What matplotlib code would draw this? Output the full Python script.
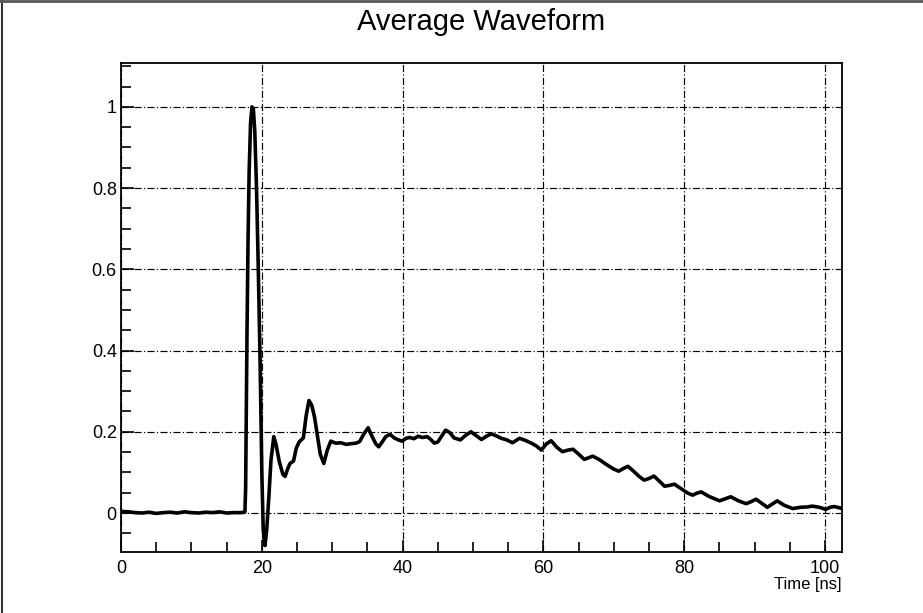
import matplotlib
matplotlib.use('Agg')
import matplotlib.pyplot as plt
from matplotlib.lines import Line2D
from matplotlib.ticker import MultipleLocator

plt.rcParams['font.family'] = ['Liberation Sans', 'DejaVu Sans']

# averaged pulse, time in ns and normalised amplitude
time_ns = [0, 1, 2, 3, 4, 5, 6, 7, 8, 9, 10, 11, 12, 13, 14, 15, 16, 17, 17.5,
           17.6, 17.7, 17.8, 17.9, 18.05, 18.2, 18.4, 18.6, 18.8, 19.0, 19.25,
           19.5, 19.75, 20.0, 20.2, 20.45, 20.7, 21.0, 21.3, 21.7, 22.0, 22.5,
           23.0, 23.3, 23.7, 24.0, 24.5, 24.9, 25.3, 25.9, 26.3, 26.7, 27.1,
           27.5, 27.9, 28.3, 28.8, 29.3, 29.8, 30.5, 31.2, 32.0, 32.8, 33.4,
           33.9, 34.5, 35.1, 35.7, 36.2, 36.6, 37.1, 37.6, 38.2, 38.8, 39.4,
           39.9, 40.5, 41.0, 41.6, 42.2, 42.8, 43.5, 44.0, 44.5, 45.0, 45.5,
           46.1, 46.7, 47.3, 48.2, 49.0, 49.7, 50.5, 51.2, 51.9, 52.6, 53.3,
           54.0, 54.8, 55.6, 56.6, 57.4, 58.3, 59.0, 59.7, 60.4, 61.1, 61.9,
           62.7, 63.5, 64.2, 65.0, 65.8, 66.4, 67.0, 67.9, 68.9, 70.0, 70.7,
           71.4, 72.0, 72.8, 73.6, 74.3, 75.0, 75.7, 76.5, 77.2, 77.9, 78.6,
           79.8, 80.5, 81.2, 81.8, 82.4, 83.5, 85.0, 85.8, 86.6, 87.7, 88.8,
           89.5, 90.2, 91.0, 91.8, 92.5, 93.2, 94.2, 95.4, 96.5, 97.5, 98.2,
           99.2, 100.1, 100.7, 101.3, 102.2]
amplitude = [0.004, 0.003, 0.001, 0.000, 0.002, -0.001, 0.001, 0.002, 0.000,
             0.003, 0.001, 0.000, 0.002, 0.001, 0.003, 0.000, 0.001, 0.001, 0.002,
             0.003, 0.06, 0.25, 0.45, 0.68, 0.84, 0.96, 1.0, 0.995, 0.94, 0.80,
             0.60, 0.38, 0.10, -0.04, -0.08, -0.04, 0.04, 0.13, 0.188, 0.17, 0.125,
             0.095, 0.090, 0.11, 0.122, 0.128, 0.16, 0.175, 0.185, 0.24, 0.277, 0.265,
             0.235, 0.19, 0.145, 0.122, 0.155, 0.177, 0.172, 0.173, 0.169, 0.171, 0.172,
             0.176, 0.195, 0.210, 0.187, 0.170, 0.163, 0.175, 0.188, 0.194, 0.185, 0.180,
             0.177, 0.184, 0.186, 0.183, 0.189, 0.186, 0.188, 0.181, 0.172, 0.175, 0.188,
             0.204, 0.198, 0.185, 0.180, 0.192, 0.200, 0.190, 0.181, 0.189, 0.195, 0.190,
             0.184, 0.180, 0.173, 0.184, 0.179, 0.172, 0.165, 0.155, 0.170, 0.178, 0.162,
             0.151, 0.155, 0.157, 0.145, 0.132, 0.136, 0.140, 0.132, 0.120, 0.108, 0.103,
             0.110, 0.115, 0.103, 0.090, 0.081, 0.085, 0.091, 0.078, 0.066, 0.068, 0.071,
             0.057, 0.049, 0.044, 0.049, 0.052, 0.041, 0.030, 0.035, 0.040, 0.030, 0.023,
             0.028, 0.034, 0.024, 0.014, 0.022, 0.030, 0.019, 0.011, 0.014, 0.015, 0.017,
             0.014, 0.009, 0.014, 0.016, 0.012]

fig = plt.figure(figsize=(9.23, 6.13), dpi=100)
ax = fig.add_axes([0.1311, 0.0995, 0.7811, 0.7977])

ax.plot(time_ns, amplitude, color='black', lw=2.6, solid_joinstyle='round', zorder=3)

ax.set_xlim(0, 102.4)
ax.set_ylim(-0.096, 1.108)
ax.xaxis.set_major_locator(MultipleLocator(20))
ax.xaxis.set_minor_locator(MultipleLocator(5))
ax.yaxis.set_major_locator(MultipleLocator(0.2))
ax.yaxis.set_minor_locator(MultipleLocator(0.05))
ax.yaxis.set_major_formatter(plt.FuncFormatter(lambda v, p: f'{v:g}' if abs(v) > 1e-9 else '0'))

ax.tick_params(which='both', direction='in', top=False, right=False,
               labelsize=13, width=1.2, color='black')
ax.tick_params(which='major', length=9)
ax.tick_params(axis='x', which='major', pad=6)
ax.tick_params(axis='y', which='major', pad=3)
ax.tick_params(which='minor', length=7.5)

ax.grid(True, which='major', color='black', lw=0.85, linestyle=(0, (6, 2, 1, 2)))
for s in ax.spines.values():
    s.set_linewidth(1.3)

ax.set_xlabel('Time [ns]', loc='right', fontsize=12, labelpad=0)
ax.set_title('Average Waveform', fontsize=21, pad=24)

# frame edges of the canvas
fig.add_artist(Line2D([0.0022, 0.0022], [0, 1], color='#333333', lw=1.5))
fig.add_artist(Line2D([0, 1], [0.998, 0.998], color='#555555', lw=2))

fig.savefig('out.png', dpi=100)
